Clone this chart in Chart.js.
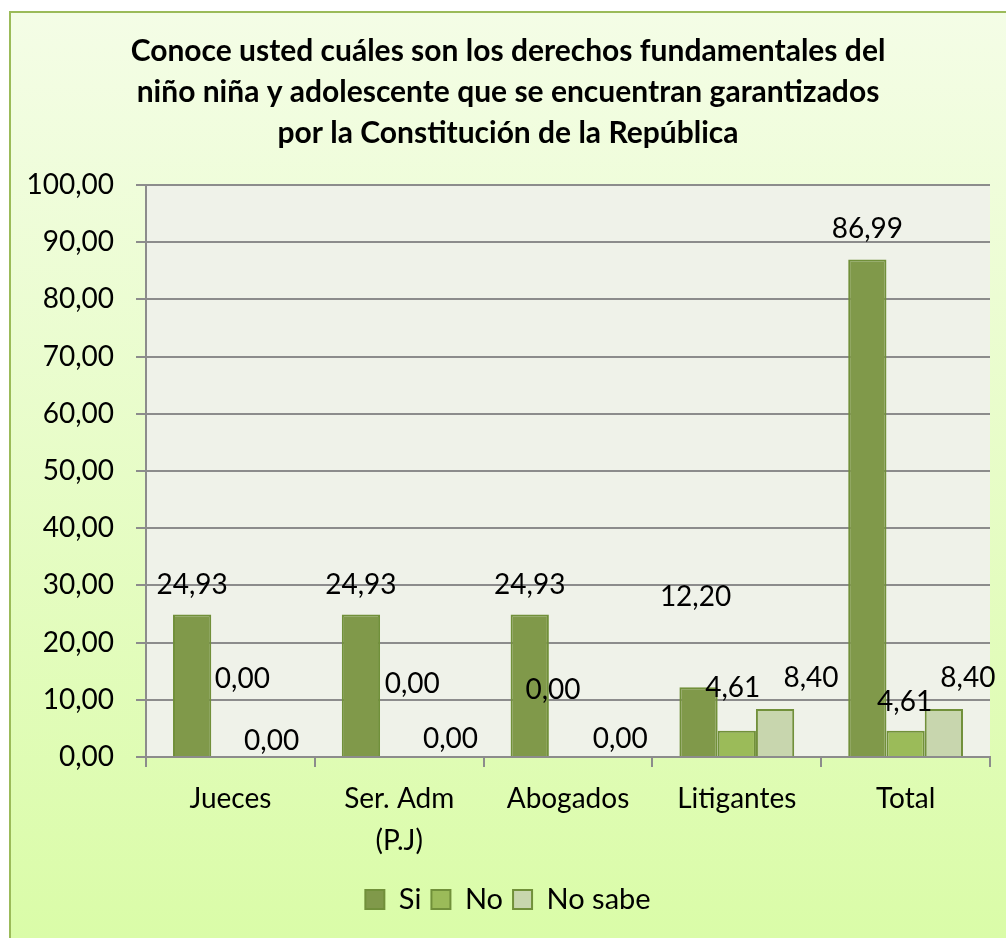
<!DOCTYPE html>
<html>
<head>
<meta charset="utf-8">
<script src="https://cdn.jsdelivr.net/npm/chart.js@4.4.1/dist/chart.umd.min.js"></script>
<style>
  html, body { margin: 0; padding: 0; background: #ffffff; }
  #wrap { width: 1006px; height: 938px; }
</style>
</head>
<body>
<div id="wrap"><canvas id="grafico"></canvas></div>
<script>
// Datos del gráfico
const categorias = ["Jueces", ["Ser. Adm", "(P.J)"], "Abogados", "Litigantes", "Total"];
const serieSi = [24.93, 24.93, 24.93, 12.20, 86.99];
const serieNo = [0.00, 0.00, 0.00, 4.61, 4.61];
const serieNoSabe = [0.00, 0.00, 0.00, 8.40, 8.40];
const ticksY = [0, 10, 20, 30, 40, 50, 60, 70, 80, 90, 100];

// desplazamiento de cada etiqueta respecto al tope de su barra [dx, dy]
const ajusteEtiquetas = [
    [[0, -29], [0, -29], [0, -29], [-3, -90], [0, -30]],
    [[12, -78], [13, -73], [-15, -67], [-4, -43], [-1, -29]],
    [[3, -16], [13, -18], [14, -18], [36, -31], [24, -31]]
];

const fuente = "Lato, 'Open Sans', sans-serif";
const coma = (v) => v.toFixed(2).replace(".", ",");

// Fondo del gráfico y del área de trazado
const fondos = {
    id: "fondos",
    beforeDraw(chart) {
        const ctx = chart.ctx;
        const w = chart.width, h = chart.height;
        ctx.save();
        const grad = ctx.createLinearGradient(0, 12, 0, h);
        grad.addColorStop(0, "#f4fde6");
        grad.addColorStop(1, "#dafca8");
        ctx.fillStyle = grad;
        ctx.fillRect(10, 12, w - 10, h - 12);
        ctx.strokeStyle = "#9bbb59";
        ctx.lineWidth = 2;
        ctx.beginPath();
        ctx.moveTo(10, h);
        ctx.lineTo(10, 12);
        ctx.lineTo(w, 12);
        ctx.stroke();
        const a = chart.chartArea;
        ctx.fillStyle = "#eff2e9";
        ctx.fillRect(a.left, a.top, a.right - a.left, a.bottom - a.top);
        ctx.restore();
    }
};

// Etiquetas de valores
const etiquetas = {
    id: "etiquetas",
    afterDatasetsDraw(chart) {
        const ctx = chart.ctx;
        ctx.save();
        ctx.font = "28px " + fuente;
        ctx.fillStyle = "#000000";
        ctx.textAlign = "center";
        ctx.textBaseline = "middle";
        chart.data.datasets.forEach((ds, i) => {
            const meta = chart.getDatasetMeta(i);
            meta.data.forEach((bar, j) => {
                const aj = ajusteEtiquetas[i][j];
                ctx.fillText(coma(ds.data[j]), bar.x + aj[0], bar.y + aj[1]);
            });
        });
        ctx.restore();
    }
};

const bordeBarra = "#71903a";

new Chart(document.getElementById("grafico"), {
    type: "bar",
    data: {
        labels: categorias,
        datasets: [
            { label: "Si", data: serieSi, backgroundColor: "#80994a", borderColor: bordeBarra, borderWidth: 2 },
            { label: "No", data: serieNo, backgroundColor: "#9bbb59", borderColor: bordeBarra, borderWidth: 2 },
            { label: "No sabe", data: serieNoSabe, backgroundColor: "#c8d6ae", borderColor: bordeBarra, borderWidth: 2 }
        ]
    },
    options: {
        responsive: true,
        maintainAspectRatio: false,
        animation: false,
        datasets: { bar: { categoryPercentage: 0.68, barPercentage: 1.0 } },
        layout: { padding: { left: 26, right: 16, top: 12, bottom: 14 } },
        plugins: {
            title: {
                display: true,
                text: [
                    "Conoce usted cuáles son los derechos fundamentales del",
                    "niño niña y adolescente que se encuentran garantizados",
                    "por la Constitución de la República"
                ],
                color: "#000000",
                font: { family: fuente, size: 30, weight: "bold", lineHeight: 1.367 },
                padding: { top: 19, bottom: 31 }
            },
            legend: {
                position: "bottom",
                labels: {
                    color: "#000000",
                    font: { family: fuente, size: 29 },
                    boxWidth: 19,
                    boxHeight: 19,
                    padding: 10
                }
            },
            tooltip: { enabled: false }
        },
        scales: {
            x: {
                grid: { drawOnChartArea: false, drawTicks: true, tickLength: 10, offset: true, color: "#8c8c8c", lineWidth: 2 },
                border: { color: "#8c8c8c", width: 2 },
                ticks: {
                    color: "#000000",
                    font: { family: fuente, size: 28, lineHeight: 1.5 },
                    padding: 11,
                    maxRotation: 0,
                    autoSkip: false
                },
                afterFit(scale) { scale.height = 118; }
            },
            y: {
                min: 0,
                max: 100,
                afterBuildTicks(scale) { scale.ticks = ticksY.map(v => ({ value: v })); },
                grid: { color: "#8c8c8c", lineWidth: 2, tickLength: 10 },
                border: { color: "#8c8c8c", width: 2 },
                ticks: {
                    color: "#000000",
                    font: { family: fuente, size: 28 },
                    padding: 22,
                    callback: (v) => coma(v)
                },
                afterFit(scale) { scale.width = 120; }
            }
        }
    },
    plugins: [fondos, etiquetas]
});
</script>
</body>
</html>
